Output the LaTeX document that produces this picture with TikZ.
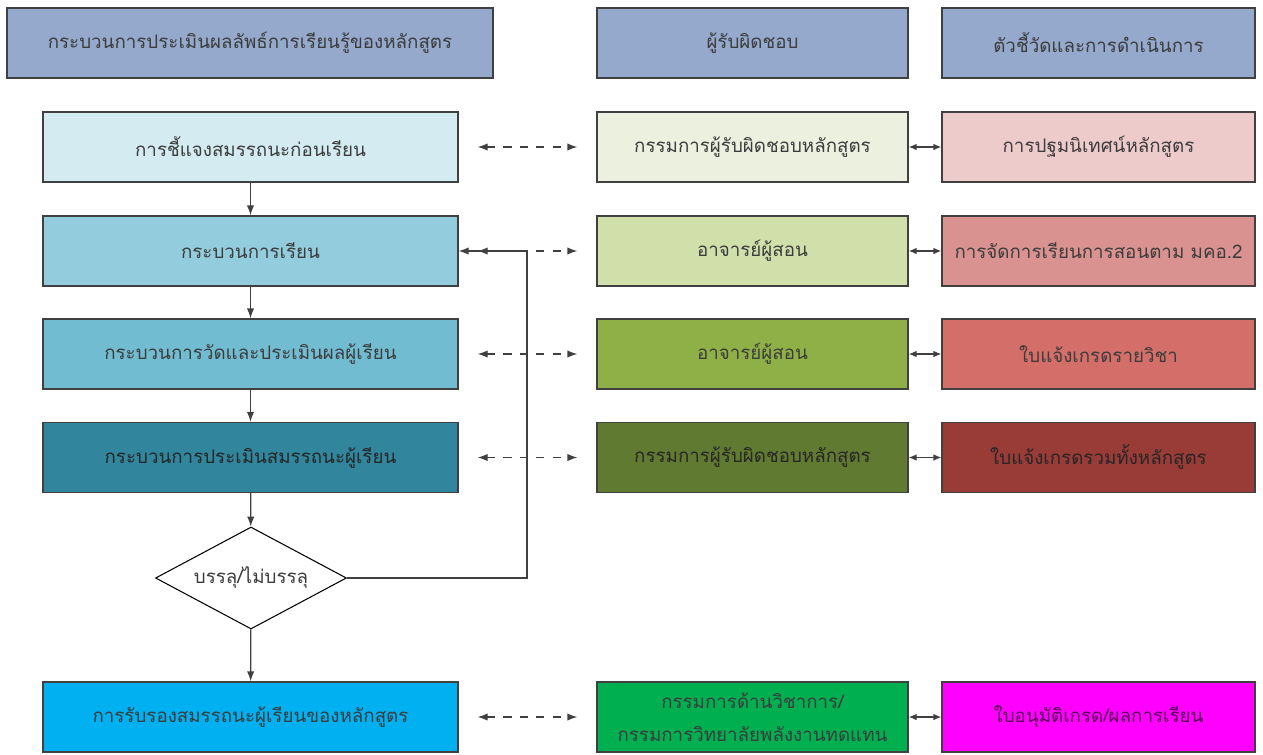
\documentclass[tikz,border=0pt]{standalone}
\usepackage{fontspec}
\newfontfamily\thaifont[Script=Thai]{Loma}
\usetikzlibrary{shapes.geometric}
\usetikzlibrary{arrows.meta}
\definecolor{headblue}{HTML}{94A9CB}
\definecolor{boxline}{HTML}{404040}
\definecolor{textgray}{HTML}{3C3C3C}
\definecolor{procA}{HTML}{D4EBF2}
\definecolor{procB}{HTML}{93CDDD}
\definecolor{procC}{HTML}{72BCD2}
\definecolor{procD}{HTML}{31859C}
\definecolor{procE}{HTML}{00B0F0}
\definecolor{respA}{HTML}{EBF1DE}
\definecolor{respB}{HTML}{D1DFAB}
\definecolor{respC}{HTML}{8FB047}
\definecolor{respD}{HTML}{617A32}
\definecolor{respE}{HTML}{00B050}
\definecolor{kpiA}{HTML}{EDCBCA}
\definecolor{kpiB}{HTML}{D99290}
\definecolor{kpiC}{HTML}{D36E69}
\definecolor{kpiD}{HTML}{993B37}
\definecolor{kpiE}{HTML}{FF00FF}
\tikzset{
    box/.style = {rectangle, draw=boxline, line width=1.1pt, minimum height=2.1cm, align=center, text=textgray,
      inner xsep=2pt, font=\thaifont\fontsize{16}{28}\selectfont},
    headnode/.style = {box, fill=headblue},
    procnode/.style = {box, minimum width=12.45cm},
    respnode/.style = {box, minimum width=9.33cm},
    kpinode/.style = {box, minimum width=9.39cm},
    decnode/.style = {diamond, draw=black, line width=0.9pt, fill=white, inner sep=0pt, aspect=1.87,
      minimum width=5.73cm, minimum height=3.06cm, text=textgray, font=\thaifont\fontsize{16}{20}\selectfont},
    edgen/.style = {-{Latex[length=3mm,width=2.2mm]}, line width=1.1pt, draw=boxline},
    edged/.style = {{Latex[length=3mm,width=2.2mm]}-{Latex[length=3mm,width=2.2mm]}, line width=1.1pt, draw=boxline,
      dash pattern=on 7pt off 7pt, shorten <=0.57cm, shorten >=0.57cm}, % to responsible
    edgebi/.style = {{Latex[length=2.4mm,width=2mm]}-{Latex[length=2.4mm,width=2mm]}, line width=1.1pt, draw=boxline} % to indicator
}

\begin{document}
\begin{tikzpicture}
  \useasboundingbox (0,0) rectangle (37.89,-22.62);

  % headers
  \node[headnode, minimum width=14.58cm] (h1) at (7.50,-1.29) {กระบวนการประเมินผลลัพธ์การเรียนรู้ของหลักสูตร};
  \node[headnode, minimum width=9.33cm] (h2) at (22.575,-1.29) {ผู้รับผิดชอบ};
  \node[headnode, minimum width=9.39cm] (h3) at (32.955,-1.29) {ตัวชี้วัดและการดำเนินการ};

  % process column
  \node[procnode, fill=procA] (p1) at (7.515,-4.41) {การชี้แจงสมรรถนะก่อนเรียน};
  \node[procnode, fill=procB] (p2) at (7.515,-7.53) {กระบวนการเรียน};
  \node[procnode, fill=procC] (p3) at (7.515,-10.62) {กระบวนการวัดและประเมินผลผู้เรียน};
  \node[procnode, fill=procD, text=black!85] (p4) at (7.515,-13.725) {กระบวนการประเมินสมรรถนะผู้เรียน};
  \node[decnode] (dec) at (7.53,-17.34) {บรรลุ/ไม่บรรลุ};
  \node[procnode, fill=procE] (p5) at (7.515,-21.51) {การรับรองสมรรถนะผู้เรียนของหลักสูตร};

  % responsible column
  \node[respnode, fill=respA] (r1) at (22.575,-4.41) {กรรมการผู้รับผิดชอบหลักสูตร};
  \node[respnode, fill=respB] (r2) at (22.575,-7.53) {อาจารย์ผู้สอน};
  \node[respnode, fill=respC] (r3) at (22.575,-10.62) {อาจารย์ผู้สอน};
  \node[respnode, fill=respD, text=black!85] (r4) at (22.575,-13.725) {กรรมการผู้รับผิดชอบหลักสูตร};
  \node[respnode, fill=respE] (r5) at (22.575,-21.51) {กรรมการด้านวิชาการ/\\กรรมการวิทยาลัยพลังงานทดแทน};

  % indicator column
  \node[kpinode, fill=kpiA] (k1) at (32.955,-4.41) {การปฐมนิเทศน์หลักสูตร};
  \node[kpinode, fill=kpiB] (k2) at (32.955,-7.53) {การจัดการเรียนการสอนตาม มคอ.2};
  \node[kpinode, fill=kpiC] (k3) at (32.955,-10.62) {ใบแจ้งเกรดรายวิชา};
  \node[kpinode, fill=kpiD, text=black!85] (k4) at (32.955,-13.725) {ใบแจ้งเกรดรวมทั้งหลักสูตร};
  \node[kpinode, fill=kpiE, text=violet!70!black] (k5) at (32.955,-21.51) {ใบอนุมัติเกรด/ผลการเรียน};

  \coordinate (fb) at (15.81,-7.53);

  \draw[edgen] (p1) -- (p2);
  \draw[edgen] (p2) -- (p3);
  \draw[edgen] (p3) -- (p4);
  \draw[edgen] (p4) -- (dec);
  \draw[edgen] (dec) -- (p5);
  \draw[edgen] (dec.east) -| (fb) -- (p2.east);

  \foreach \i in {1,2,3,4,5}{
    \draw[edged] (p\i.east) -- (r\i.west);
    \draw[edgebi] (r\i.east) -- (k\i.west);
  }
\end{tikzpicture}
\end{document}
